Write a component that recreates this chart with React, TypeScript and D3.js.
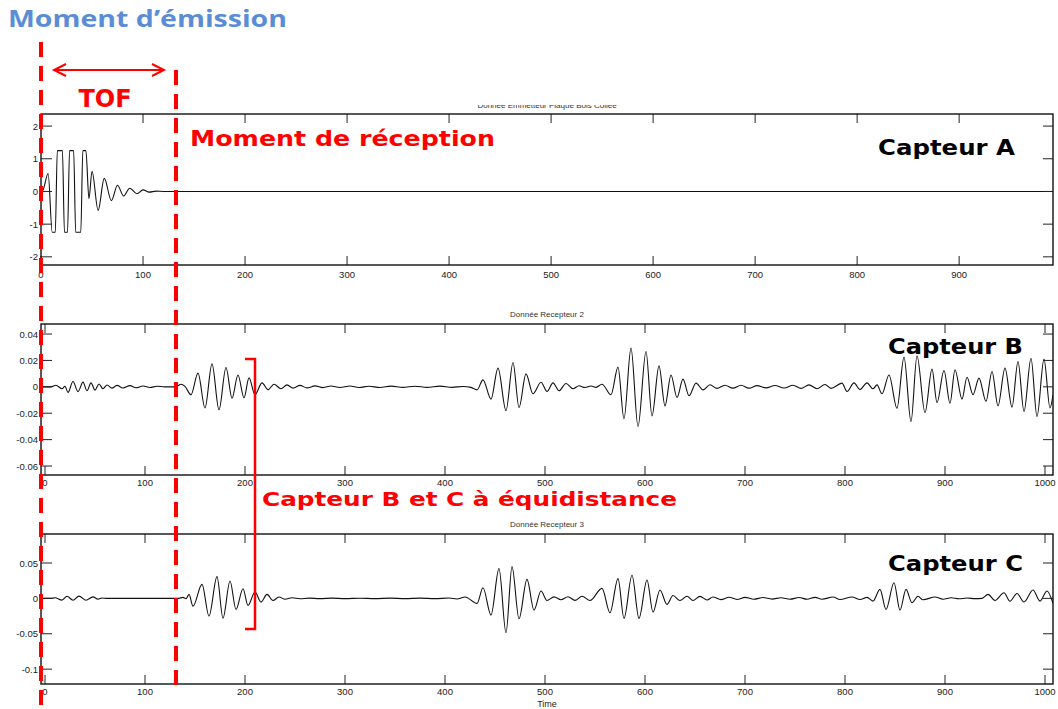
import * as d3 from "d3";
import React, { RefObject, useEffect, useRef } from "react";

const W = 1058;
const H = 709;

// Capteur A (emitter) – peaks / troughs [time, amplitude]
const emitterPts: [number, number][] = [
  [0, 0], [2, 0.05], [7, 0.55], [11, -1.25], [14, -1.25], [16, 1.25], [21, 1.25],
  [23, -1.25], [26, -1.25], [28, 1.25], [32, 1.25], [34, -1.25], [39, -1.25],
  [41, 1.25], [44, 1.25], [47, -0.22], [50, 0.62], [56, -0.58], [62, 0.4],
  [69, -0.28], [75, 0.19], [81, -0.14], [87, 0.1], [94, -0.07], [100, 0.05],
  [106, -0.02], [113, 0.01], [120, 0], [992, 0],
];

// Capteur B (receiver 2)
const recv2Pts: [number, number][] = [
  [-4, 0], [6, 0], [11, 0.0012], [17, -0.0015], [20, 0.0004], [23, -0.0043], [28, 0.004],
  [33, -0.0036], [38, 0.0036], [42, -0.003], [46, 0.003], [50, -0.0025], [54, 0.0022],
  [58, -0.0015], [62, 0.0014], [67, -0.001], [72, 0.0011], [78, -0.0009], [85, 0.0009],
  [91, -0.0007], [98, 0.0006], [105, -0.0005], [112, 0.0004], [120, 0], [131, 0],
  [136, 0.002], [140, 0.0003], [146, -0.006], [153, 0.0104], [160, -0.016], [167, 0.0174],
  [174, -0.0174], [181, 0.0146], [187, -0.0086], [193, 0.009], [199, -0.0083], [204, 0.0068],
  [210, -0.006], [217, 0.003], [223, -0.0022], [229, 0.002], [236, -0.0015], [242, 0.0015],
  [248, -0.001], [255, 0.0011], [262, -0.0008], [270, 0.0007], [278, -0.0006], [286, 0.0006],
  [295, -0.0005], [305, 0.0006], [314, -0.0005], [324, 0.0004], [335, -0.0005], [346, 0.0005],
  [358, -0.0004], [370, 0.0004], [382, -0.0004], [395, 0.0005], [407, -0.0004], [418, 0.0003],
  [426, -0.0004], [432, -0.0023], [438, 0.0053], [446, -0.0093], [453, 0.0142], [461, -0.018],
  [468, 0.0184], [474, -0.0157], [481, 0.0098], [488, -0.0053], [496, 0.0035], [502, -0.0035],
  [508, 0.003], [514, -0.003], [521, 0.0025], [528, -0.0015], [534, 0.0008], [540, -0.0005],
  [546, 0.0006], [551, -0.0004], [557, 0.002], [566, -0.006], [573, 0.0149], [579, -0.0242],
  [586, 0.0293], [593, -0.03], [601, 0.0268], [607, -0.022], [614, 0.0159], [620, -0.0144],
  [626, 0.009], [632, -0.0081], [638, 0.0058], [644, -0.0068], [651, 0.0028], [658, -0.0023],
  [665, 0.0016], [672, -0.0012], [680, 0.0012], [688, -0.001], [696, 0.0012], [704, -0.001],
  [712, 0.0009], [721, -0.0008], [730, 0.001], [739, -0.0009], [748, 0.0012], [756, -0.0012],
  [764, 0.0015], [772, -0.0014], [780, 0.0018], [786, -0.0012], [797, 0.0028], [802, -0.0035],
  [809, 0.003], [815, -0.002], [822, 0.003], [828, -0.0015], [832, 0.0015], [837, -0.0053],
  [844, 0.009], [852, -0.0162], [859, 0.0225], [866, -0.0263], [872, 0.0235], [880, -0.0195],
  [887, 0.0134], [892, -0.0119], [899, 0.0124], [905, -0.0124], [910, 0.0129], [917, -0.0093],
  [922, 0.0073], [928, -0.006], [934, 0.0066], [941, -0.011], [947, 0.0116], [953, -0.0144],
  [960, 0.0142], [967, -0.0154], [973, 0.0192], [979, -0.0187], [986, 0.0217], [992, -0.0225],
  [999, 0.021], [1005, -0.016], [1008, -0.006],
];

// Capteur C (receiver 3)
const recv3Pts: [number, number][] = [
  [-4, 0], [6, 0], [10, 0.0008], [17, -0.0025], [22, 0.003], [28, -0.0026], [34, 0.0032],
  [41, -0.0026], [48, 0.0022], [53, -0.0012], [57, 0.0006], [62, 0], [133, 0],
  [138, 0.0015], [141, -0.0005], [144, 0.0057], [148, -0.011], [157, 0.0198], [164, -0.025],
  [172, 0.0307], [178, -0.028], [185, 0.0245], [191, -0.0156], [198, 0.0137], [203, -0.0099],
  [210, 0.009], [216, -0.0052], [222, 0.0057], [228, -0.003], [234, 0.002], [240, -0.0012],
  [247, 0.0008], [255, -0.0005], [264, 0.0004], [275, -0.0004], [287, 0.0004], [300, -0.0003],
  [315, 0.0003], [330, -0.0003], [345, 0.0004], [360, -0.0003], [375, 0.0004], [390, -0.0004],
  [404, 0.0005], [412, -0.0008], [420, 0.002], [432, -0.0071], [438, 0.0151], [446, -0.0236],
  [454, 0.042], [461, -0.0486], [467, 0.0449], [474, -0.0288], [482, 0.0269], [489, -0.0166],
  [496, 0.0104], [502, -0.003], [509, 0.0022], [516, -0.002], [523, 0.0024], [530, -0.0028],
  [537, 0.003], [545, -0.003], [557, 0.0142], [565, -0.0203], [573, 0.0279], [579, -0.0283],
  [587, 0.0326], [594, -0.0283], [602, 0.026], [608, -0.0194], [615, 0.0118], [622, -0.0085],
  [628, 0.004], [635, -0.003], [642, 0.003], [648, -0.003], [655, 0.0028], [662, -0.0022],
  [668, 0.002], [676, -0.0018], [684, 0.0016], [692, -0.0015], [700, 0.0015], [709, -0.0012],
  [718, 0.0012], [727, -0.001], [736, 0.001], [745, -0.0012], [754, 0.0012], [762, -0.0012],
  [770, 0.0014], [777, -0.0012], [788, 0.002], [795, -0.0015], [807, 0.002], [815, -0.0015],
  [822, 0.0015], [828, -0.0038], [835, 0.0127], [841, -0.0156], [849, 0.0222], [855, -0.0166],
  [861, 0.0127], [867, -0.0061], [873, 0.003], [878, -0.002], [890, 0.002], [898, -0.0012],
  [906, 0.0008], [914, -0.0006], [922, 0.0005], [930, -0.0004], [937, 0], [943, 0.0057],
  [950, -0.003], [959, 0.008], [965, -0.004], [972, 0.007], [979, -0.005], [988, 0.0118],
  [995, -0.0038], [1002, 0.0104], [1008, -0.007],
];

const xTicksA = [0, 100, 200, 300, 400, 500, 600, 700, 800, 900];
const xTicksBC = [0, 100, 200, 300, 400, 500, 600, 700, 800, 900, 1000];
const yTicksA = [-2, -1, 0, 1, 2];
const yTicksB = [-0.06, -0.04, -0.02, 0, 0.02, 0.04];
const yTicksC = [-0.1, -0.05, 0, 0.05];

const panelTitles = ["Donnée Emmetteur Plaque Bois Collée", "Donnée Recepteur 2", "Donnée Recepteur 3"];
const sensorNames = ["Capteur A", "Capteur B", "Capteur C"];

const AXIS_FONT = "'Liberation Sans', Arial, sans-serif";
const BOLD_FONT = "'DejaVu Sans', Verdana, sans-serif";

interface Panel {
  data: [number, number][];
  top: number;
  bottom: number;
  xDomain: [number, number];
  yDomain: [number, number];
  xTicks: number[];
  yTicks: number[];
  labelOffset: number;
  title: string;
  name: string;
  nameX: number;
  nameY: number;
}

const App = () => {
  const ref: RefObject<HTMLDivElement> = useRef(null);

  useEffect(() => {
    const root = d3.select(ref.current);
    root.selectAll("*").remove();
    const svg = root
      .append("svg")
      .attr("width", W)
      .attr("height", H)
      .style("display", "block")
      .style("background", "#fff");

    const left = 41;
    const right = 1053;

    const panels: Panel[] = [
      { data: emitterPts, top: 114, bottom: 265, xDomain: [0, 992], yDomain: [-2.25, 2.37],
        xTicks: xTicksA, yTicks: yTicksA, labelOffset: 13, title: panelTitles[0],
        name: sensorNames[0], nameX: 878, nameY: 155 },
      { data: recv2Pts, top: 324, bottom: 475, xDomain: [-4, 1008], yDomain: [-0.0668, 0.0476],
        xTicks: xTicksBC, yTicks: yTicksB, labelOffset: 11, title: panelTitles[1],
        name: sensorNames[1], nameX: 888, nameY: 354 },
      { data: recv3Pts, top: 534, bottom: 684, xDomain: [-4, 1008], yDomain: [-0.121, 0.091],
        xTicks: xTicksBC, yTicks: yTicksC, labelOffset: 11, title: panelTitles[2],
        name: sensorNames[2], nameX: 888, nameY: 571 },
    ];

    const defs = svg.append("defs");
    defs.append("clipPath").attr("id", "titleclip")
      .append("rect").attr("x", 0).attr("y", 105).attr("width", W).attr("height", 9);

    panels.forEach((p, i) => {
      const x = d3.scaleLinear().domain(p.xDomain).range([left, right]);
      const y = d3.scaleLinear().domain(p.yDomain).range([p.bottom, p.top]);
      const g = svg.append("g");

      defs.append("clipPath").attr("id", `clip${i}`)
        .append("rect").attr("x", left).attr("y", p.top).attr("width", right - left).attr("height", p.bottom - p.top);

      // title (the first one is cut in half in the original)
      g.append("text")
        .attr("x", (left + right) / 2)
        .attr("y", i === 0 ? 108 : p.top - 7)
        .attr("text-anchor", "middle")
        .attr("font-family", AXIS_FONT)
        .attr("font-size", 8)
        .attr("fill", "#333")
        .attr("clip-path", i === 0 ? "url(#titleclip)" : null)
        .text(p.title);

      const line = d3.line<[number, number]>()
        .x((d) => x(d[0]))
        .y((d) => y(d[1]))
        .curve(d3.curveMonotoneX);

      g.append("path")
        .attr("d", line(p.data) as string)
        .attr("fill", "none")
        .attr("stroke", "#111")
        .attr("stroke-width", 1.1)
        .attr("clip-path", `url(#clip${i})`);

      // ticks, matlab style: inside on all four sides
      p.xTicks.forEach((t) => {
        const px = x(t);
        g.append("line").attr("x1", px).attr("x2", px).attr("y1", p.top).attr("y2", p.top + 9)
          .attr("stroke", "#222").attr("stroke-width", 1);
        g.append("line").attr("x1", px).attr("x2", px).attr("y1", p.bottom).attr("y2", p.bottom - 9)
          .attr("stroke", "#222").attr("stroke-width", 1);
        g.append("text").attr("x", px).attr("y", p.bottom + p.labelOffset)
          .attr("text-anchor", "middle").attr("font-family", AXIS_FONT).attr("font-size", 9.5)
          .attr("fill", "#222").text(String(t));
      });
      p.yTicks.forEach((t) => {
        const py = y(t);
        g.append("line").attr("x1", left).attr("x2", left + 11).attr("y1", py).attr("y2", py)
          .attr("stroke", "#222").attr("stroke-width", 1);
        g.append("line").attr("x1", right).attr("x2", right - 10).attr("y1", py).attr("y2", py)
          .attr("stroke", "#222").attr("stroke-width", 1);
        g.append("text").attr("x", left - 3).attr("y", py + 3.5)
          .attr("text-anchor", "end").attr("font-family", AXIS_FONT).attr("font-size", 9.5)
          .attr("fill", "#222").text(String(t));
      });

      g.append("rect")
        .attr("x", left).attr("y", p.top)
        .attr("width", right - left).attr("height", p.bottom - p.top)
        .attr("fill", "none").attr("stroke", "#111").attr("stroke-width", 1.4);

      g.append("text")
        .attr("x", p.nameX).attr("y", p.nameY)
        .attr("font-family", BOLD_FONT).attr("font-weight", "bold").attr("font-size", 21)
        .attr("textLength", i === 0 ? 137 : 135).attr("lengthAdjust", "spacingAndGlyphs")
        .attr("fill", "#000").text(p.name);
    });

    svg.append("text")
      .attr("x", (left + right) / 2).attr("y", 707)
      .attr("text-anchor", "middle").attr("font-family", AXIS_FONT).attr("font-size", 9)
      .attr("fill", "#222").text("Time");

    // ---- annotations ----
    const red = "#ff0000";
    const ann = svg.append("g");

    ann.append("text")
      .attr("x", 8).attr("y", 27)
      .attr("font-family", "'Open Sans', sans-serif").attr("font-weight", "bold").attr("font-size", 23)
      .attr("textLength", 279).attr("lengthAdjust", "spacingAndGlyphs")
      .attr("fill", "#5b8dd6").text("Moment d’émission");

    ann.append("line").attr("x1", 41).attr("x2", 41).attr("y1", 42).attr("y2", H)
      .attr("stroke", red).attr("stroke-width", 4).attr("stroke-dasharray", "15 9");
    ann.append("line").attr("x1", 176).attr("x2", 176).attr("y1", 70).attr("y2", 690)
      .attr("stroke", red).attr("stroke-width", 4).attr("stroke-dasharray", "15 9");

    // TOF double arrow
    ann.append("line").attr("x1", 54).attr("x2", 164).attr("y1", 70).attr("y2", 70)
      .attr("stroke", red).attr("stroke-width", 2);
    ann.append("path").attr("d", "M66,64 L54,70 L66,76 M152,64 L164,70 L152,76")
      .attr("fill", "none").attr("stroke", red).attr("stroke-width", 2);

    ann.append("text")
      .attr("x", 105).attr("y", 107).attr("text-anchor", "middle")
      .attr("font-family", BOLD_FONT).attr("font-weight", "bold").attr("font-size", 24)
      .attr("fill", red).text("TOF");

    ann.append("text")
      .attr("x", 190).attr("y", 146)
      .attr("font-family", BOLD_FONT).attr("font-weight", "bold").attr("font-size", 22)
      .attr("textLength", 305).attr("lengthAdjust", "spacingAndGlyphs")
      .attr("fill", red).text("Moment de réception");

    // bracket for B/C
    ann.append("path").attr("d", "M245,359 L255,359 L255,629 L245,629")
      .attr("fill", "none").attr("stroke", red).attr("stroke-width", 2.5);

    ann.append("text")
      .attr("x", 262).attr("y", 506)
      .attr("font-family", BOLD_FONT).attr("font-weight", "bold").attr("font-size", 20)
      .attr("textLength", 415).attr("lengthAdjust", "spacingAndGlyphs")
      .attr("fill", red).text("Capteur B et C à équidistance");
  }, [ref]);

  return (
    <div style={{ position: "absolute", left: 0, top: 0 }}>
      <div ref={ref} />
    </div>
  );
};

export default App;
